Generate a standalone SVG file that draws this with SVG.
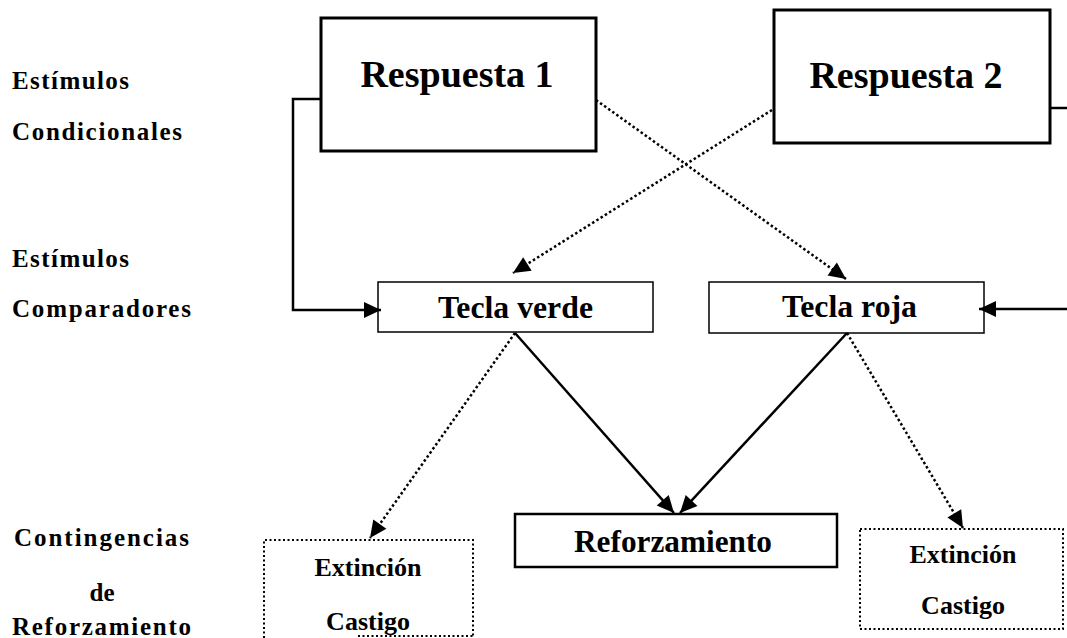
<svg xmlns="http://www.w3.org/2000/svg" width="1067" height="638" viewBox="0 0 1067 638">
<style>
text{font-family:"Liberation Serif","Times New Roman",serif;font-weight:bold;fill:#000}
.lbl{font-size:25px}
.big{font-size:38px}
.key{font-size:31px}
.ctg{font-size:26px}
.box{fill:#fff;stroke:#000}
.dotbox{fill:none;stroke:#000;stroke-width:2;stroke-dasharray:2 2.5}
.solid{fill:none;stroke:#000;stroke-width:2.5}
.dot{fill:none;stroke:#000;stroke-width:2.5;stroke-dasharray:2.5 2.5}
</style>
<defs>
<marker id="ah" markerUnits="userSpaceOnUse" markerWidth="18" markerHeight="18" refX="17" refY="8.5" orient="auto" overflow="visible">
<path d="M0,0.5 L17,8.5 L0,16.5 z" fill="#000"/>
</marker>
</defs>
<rect width="1067" height="638" fill="#fff"/>

<g id="labels">
<text class="lbl" x="12" y="89" textLength="117" lengthAdjust="spacing">Estímulos</text>
<text class="lbl" x="12" y="140" textLength="170" lengthAdjust="spacing">Condicionales</text>
<text class="lbl" x="12" y="267" textLength="117" lengthAdjust="spacing">Estímulos</text>
<text class="lbl" x="12" y="317" textLength="179" lengthAdjust="spacing">Comparadores</text>
<text class="lbl" x="14" y="546" textLength="175" lengthAdjust="spacing">Contingencias</text>
<text class="lbl" x="102" y="601" text-anchor="middle">de</text>
<text class="lbl" x="12" y="635" textLength="179" lengthAdjust="spacing">Reforzamiento</text>
</g>

<g id="respuesta1">
<rect class="box" x="321" y="18" width="275" height="133" stroke-width="3"/>
<text class="big" x="457" y="87" text-anchor="middle">Respuesta 1</text>
</g>

<g id="respuesta2">
<rect class="box" x="774" y="10" width="276" height="133" stroke-width="3"/>
<text class="big" x="906" y="88" text-anchor="middle">Respuesta 2</text>
</g>

<g id="tecla-verde">
<rect class="box" x="378" y="282" width="275" height="50" stroke-width="1.5"/>
<text class="key" x="438" y="318" textLength="155" lengthAdjust="spacingAndGlyphs">Tecla verde</text>
</g>

<g id="tecla-roja">
<rect class="box" x="709" y="282" width="275" height="51" stroke-width="1.5"/>
<text class="key" x="782" y="317" textLength="135" lengthAdjust="spacingAndGlyphs">Tecla roja</text>
</g>

<g id="reforzamiento">
<rect class="box" x="515" y="514" width="322" height="53" stroke-width="2.5"/>
<text class="key" x="574" y="552" textLength="198" lengthAdjust="spacingAndGlyphs">Reforzamiento</text>
</g>

<g id="extincion-izq">
<path class="dotbox" d="M264,638 V540 H473 V638 M358,636 H473"/>
<text class="ctg" x="368" y="576" text-anchor="middle">Extinción</text>
<text class="ctg" x="368" y="630" text-anchor="middle">Castigo</text>
</g>

<g id="extincion-der">
<rect class="dotbox" x="860" y="529" width="203" height="100"/>
<text class="ctg" x="963" y="563" text-anchor="middle">Extinción</text>
<text class="ctg" x="963" y="614" text-anchor="middle">Castigo</text>
</g>

<g id="connectors">
<path class="solid" d="M321,99 H293 V310 H381" marker-end="url(#ah)"/>
<path class="solid" d="M1050,108 H1067"/>
<path class="solid" d="M1067,309 H979" marker-end="url(#ah)"/>
<path class="dot" d="M596,100 L846,279" marker-end="url(#ah)"/>
<path class="dot" d="M772,110 L513,273" marker-end="url(#ah)"/>
<path class="solid" d="M515,333 L674,513" marker-end="url(#ah)"/>
<path class="solid" d="M847,333 L680,513" marker-end="url(#ah)"/>
<path class="dot" d="M515,333 L370,538" marker-end="url(#ah)"/>
<path class="dot" d="M847,333 L963,528" marker-end="url(#ah)"/>
</g>
</svg>
